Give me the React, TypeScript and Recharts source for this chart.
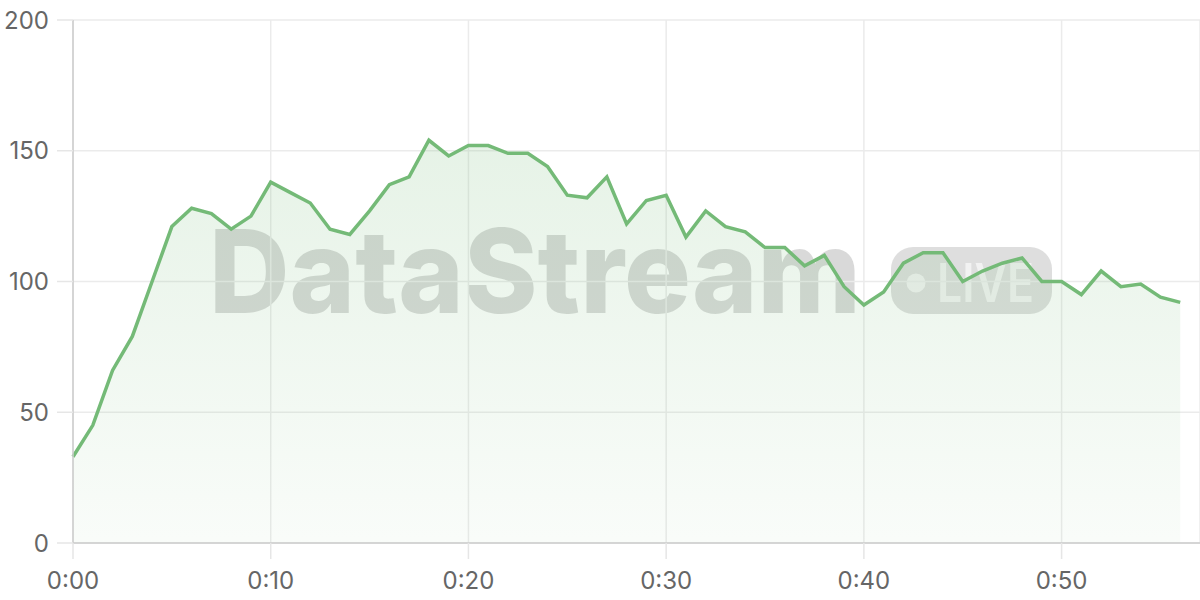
import { AreaChart, Area, XAxis, YAxis, CartesianGrid } from "recharts";

// one reading per minute, 0:00 .. 0:56
const minutes = Array.from({ length: 57 }, (_, i) => i);
const viewers = [
  33, 45, 66, 79, 100, 121, 128, 126, 120, 125,
  138, 134, 130, 120, 118, 127, 137, 140, 154, 148,
  152, 152, 149, 149, 144, 133, 132, 140, 122, 131,
  133, 117, 127, 121, 119, 113, 113, 106, 110, 98,
  91, 96, 107, 111, 111, 100, 104, 107, 109, 100,
  100, 95, 104, 98, 99, 94, 92,
];
const xTicks = [0, 10, 20, 30, 40, 50];
const yTicks = [0, 50, 100, 150, 200];

const chartData = minutes.map((m, i) => ({ t: m, v: viewers[i] }));

const fmtTime = (m: number) => `${Math.floor(m / 60)}:${String(m % 60).padStart(2, "0")}`;

const tickStyle = { fill: "#666", fontSize: 24, fontFamily: "Inter, sans-serif" };

function Watermark() {
  return (
    <svg width={1200} height={600} style={{ position: "absolute", left: 0, top: 0 }}>
      <text
        x={209}
        y={313}
        fontSize={116}
        fontWeight={800}
        fontFamily="Inter, sans-serif"
        textLength={652}
        lengthAdjust="spacingAndGlyphs"
        fill="rgba(0,0,0,0.15)"
      >
        DataStream
      </text>
      <rect x={891} y={247} width={161} height={67} rx={22} fill="rgba(0,0,0,0.13)" />
      <circle cx={916} cy={283} r={9.5} fill="rgba(255,255,255,0.6)" />
      <text
        x={937}
        y={302}
        fontSize={54}
        fontWeight={600}
        fontFamily="Inter, sans-serif"
        textLength={97}
        lengthAdjust="spacingAndGlyphs"
        fill="rgba(255,255,255,0.6)"
      >
        LIVE
      </text>
    </svg>
  );
}

export default function App() {
  return (
    <div style={{ position: "absolute", left: 0, top: 0, width: 1200, height: 600, background: "#fff" }}>
      <Watermark />
      <div style={{ position: "absolute", left: 0, top: 0 }}>
        <AreaChart width={1200} height={600} data={chartData} margin={{ top: 20, right: 0, bottom: 0, left: 0 }}>
          <defs>
            <linearGradient id="fillGreen" x1="0" y1="0" x2="0" y2="1">
              <stop offset="0%" stopColor="#74ba77" stopOpacity={0.3} />
              <stop offset="100%" stopColor="#74ba77" stopOpacity={0.07} />
            </linearGradient>
          </defs>
          <CartesianGrid stroke="#ebebeb" strokeWidth={1.5} />
          <XAxis
            dataKey="t"
            type="number"
            domain={[0, 57]}
            ticks={xTicks}
            tickFormatter={fmtTime}
            height={57}
            stroke="#cccccc"
            strokeWidth={1.5}
            tickLine={{ stroke: "#e6e6e6" }}
            tickSize={16}
            tickMargin={13}
            tick={tickStyle}
          />
          <YAxis
            domain={[0, 200]}
            ticks={yTicks}
            width={73}
            stroke="#cccccc"
            strokeWidth={1.5}
            tickLine={{ stroke: "#e6e6e6" }}
            tickSize={16}
            tickMargin={8}
            tick={tickStyle}
          />
          <Area
            type="linear"
            dataKey="v"
            stroke="#74ba77"
            strokeWidth={3.5}
            fill="url(#fillGreen)"
            dot={false}
            activeDot={false}
            isAnimationActive={false}
          />
        </AreaChart>
      </div>
    </div>
  );
}
